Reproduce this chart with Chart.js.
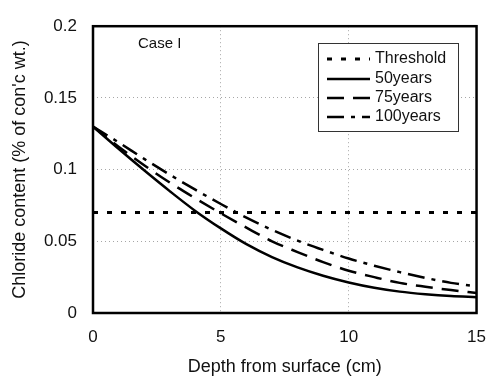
<!DOCTYPE html>
<html>
<head>
<meta charset="utf-8">
<script src="https://cdn.jsdelivr.net/npm/chart.js@4.4.1/dist/chart.umd.min.js"></script>
<style>
  html, body { margin: 0; padding: 0; background: #fff; }
  canvas { display: block; }
</style>
</head>
<body>
<canvas id="chlorideChart" width="500" height="380"></canvas>
<script>
// depth from surface (cm)
const depth = [0, 1, 2, 3, 4, 5, 6, 7, 8, 9, 10, 11, 12, 13, 14, 15]
// chloride content (% of con'c wt.)
const chloride50 = [0.13, 0.1145, 0.0995, 0.085, 0.0712, 0.059, 0.048, 0.039, 0.0318, 0.026, 0.0213, 0.0176, 0.0149, 0.0131, 0.0118, 0.011]
const chloride75 = [0.13, 0.116, 0.103, 0.091, 0.080, 0.0695, 0.0595, 0.050, 0.0425, 0.0355, 0.0295, 0.025, 0.021, 0.0183, 0.016, 0.014]
const chloride100 = [0.13, 0.119, 0.1075, 0.0965, 0.086, 0.076, 0.0665, 0.058, 0.0505, 0.044, 0.038, 0.033, 0.0285, 0.0245, 0.021, 0.0186]
const thresholdDepth = [0, 15]
const thresholdValue = [0.07, 0.07]
const seriesLabels = ['Threshold', '50years', '75years', '100years']
const yTicks = [0, 0.05, 0.1, 0.15, 0.2]
const xTicks = [0, 5, 10, 15]

const FONT = "'Liberation Sans', Arial, Helvetica, sans-serif"

const toPoints = (xs, ys) => xs.map((x, i) => ({ x: x, y: ys[i] }))

const lineStyle = (dash, width) => ({
  borderColor: '#000',
  borderWidth: width,
  borderDash: dash,
  pointRadius: 0,
  fill: false,
  cubicInterpolationMode: 'monotone'
})

const datasets = [
  Object.assign({ label: seriesLabels[0], data: toPoints(thresholdDepth, thresholdValue) }, lineStyle([5, 9], 3)),
  Object.assign({ label: seriesLabels[1], data: toPoints(depth, chloride50) }, lineStyle([], 2.5)),
  Object.assign({ label: seriesLabels[2], data: toPoints(depth, chloride75) }, lineStyle([17, 9], 2.5)),
  Object.assign({ label: seriesLabels[3], data: toPoints(depth, chloride100) }, lineStyle([17, 7, 4, 7], 2.5))
]

// frame around the plot area, plus the boxed legend and the case label
const framePlugin = {
  id: 'frameAndLegend',
  afterDatasetsDraw(chart) {
    const { ctx, chartArea } = chart
    ctx.save()
    ctx.strokeStyle = '#000'
    ctx.lineWidth = 2.5
    ctx.setLineDash([])
    ctx.strokeRect(chartArea.left, chartArea.top, chartArea.right - chartArea.left, chartArea.bottom - chartArea.top)

    // case label
    ctx.fillStyle = '#111'
    ctx.font = '15px ' + FONT
    ctx.textAlign = 'left'
    ctx.textBaseline = 'middle'
    ctx.fillText('Case I', 138, 44)

    // legend box
    const box = { x: 318, y: 43, w: 140, h: 88 }
    ctx.fillStyle = '#fff'
    ctx.fillRect(box.x, box.y, box.w, box.h)
    ctx.lineWidth = 1
    ctx.strokeStyle = '#333'
    ctx.strokeRect(box.x + 0.5, box.y + 0.5, box.w, box.h)

    const rows = [59, 79, 98, 117]
    chart.data.datasets.forEach((ds, i) => {
      const y = rows[i]
      ctx.strokeStyle = '#000'
      ctx.lineWidth = ds.borderWidth
      ctx.setLineDash(ds.borderDash)
      ctx.beginPath()
      ctx.moveTo(327, y)
      ctx.lineTo(370, y)
      ctx.stroke()
      ctx.setLineDash([])
      ctx.fillStyle = '#111'
      ctx.font = '16px ' + FONT
      ctx.fillText(ds.label, 375, y)
    })
    ctx.restore()
  }
}

const ctx = document.getElementById('chlorideChart').getContext('2d')
const chart = new Chart(ctx, {
  type: 'line',
  data: { datasets: datasets },
  options: {
    responsive: false,
    animation: false,
    devicePixelRatio: 1,
    layout: { padding: { top: 12, right: 19, left: 0, bottom: 0 } },
    plugins: {
      legend: { display: false },
      tooltip: { enabled: false }
    },
    scales: {
      x: {
        type: 'linear',
        min: xTicks[0],
        max: xTicks[xTicks.length - 1],
        afterBuildTicks: (scale) => { scale.ticks = xTicks.map(v => ({ value: v })) },
        afterFit: (scale) => { scale.height = 67 },
        border: { display: false, dash: [1, 3] },
        grid: { color: 'rgba(0,0,0,0.35)', drawTicks: false, lineWidth: 1 },
        ticks: { color: '#111', font: { family: FONT, size: 17 }, padding: 14, maxRotation: 0 },
        title: {
          display: true,
          text: 'Depth from surface (cm)',
          color: '#111',
          font: { family: FONT, size: 18 },
          padding: { top: 0, bottom: 2 }
        }
      },
      y: {
        min: yTicks[0],
        max: yTicks[yTicks.length - 1],
        afterBuildTicks: (scale) => { scale.ticks = yTicks.map(v => ({ value: v })) },
        afterFit: (scale) => { scale.width = 93 },
        border: { display: false, dash: [1, 3] },
        grid: { color: 'rgba(0,0,0,0.35)', drawTicks: false, lineWidth: 1 },
        ticks: {
          color: '#111',
          font: { family: FONT, size: 17 },
          padding: 16,
          callback: (v) => String(+Number(v).toFixed(2))
        },
        title: {
          display: true,
          text: "Chloride content (% of con'c wt.)",
          color: '#111',
          font: { family: FONT, size: 18 },
          padding: { top: 9, bottom: 0 }
        }
      }
    }
  },
  plugins: [framePlugin]
})
</script>
</body>
</html>
